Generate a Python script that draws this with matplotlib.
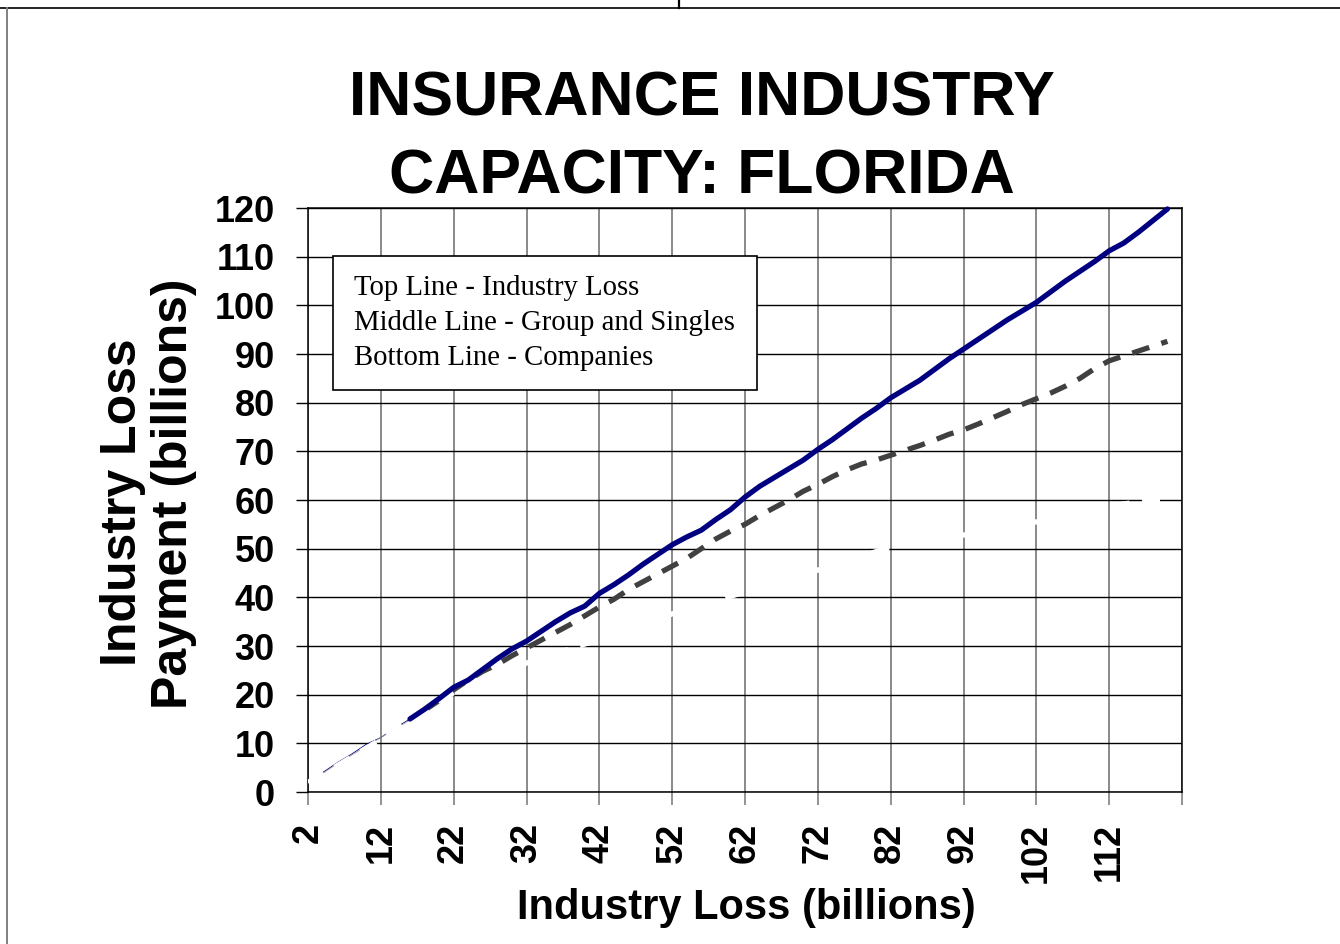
import numpy as np
import matplotlib
matplotlib.use("Agg")
import matplotlib.pyplot as plt
from matplotlib.patches import Rectangle
from matplotlib.lines import Line2D

# data (billions)
loss = list(range(2, 122, 2))
industry = [2, 4, 6, 7.8, 9.8, 11.2, 13.2, 15, 17, 19.2,
            21.5, 23, 25.2, 27.4, 29.4, 31, 33, 35, 36.8, 38.2,
            40.8, 42.6, 44.6, 46.8, 48.8, 50.8, 52.4, 53.8, 56, 58,
            60.6, 62.8, 64.6, 66.4, 68.2, 70.4, 72.4, 74.6, 76.8, 78.8,
            81, 82.8, 84.6, 86.8, 89, 91, 93, 95, 97, 98.8,
            100.6, 102.8, 105, 107, 109, 111.2, 112.8, 115, 117.4, 119.8]
groups = [2, 3.8, 5.8, 7.6, 9.4, 11.2, 13, 14.8, 16.8, 18.8,
          21, 23, 24.8, 26.2, 28, 29.6, 31.2, 32.8, 34.4, 36.2,
          38, 39.6, 41.6, 43.2, 44.8, 46.4, 48, 50, 52, 53.6,
          55, 56.8, 58.4, 60, 61.8, 63.2, 64.8, 66.2, 67.4, 68.2,
          69.2, 70.2, 71.2, 72.3, 73.5, 74.4, 75.6, 76.9, 78.2, 79.6,
          80.8, 82, 83.4, 85, 87, 88.6, 89.6, 90.6, 91.6, 92.6]
companies = [2, 3.6, 5.4, 7.2, 9, 10.8, 12.8, 14.8, 16.6, 18.8,
             20.4, 21.4, 22.6, 23.8, 25.2, 26.5, 27.5, 28.5, 29.4, 30.4,
             31.2, 32.3, 33.4, 34.5, 35.6, 36.6, 37.5, 38.4, 39.3, 40.2,
             41.1, 42, 42.9, 43.8, 44.7, 45.6, 46.6, 47.5, 48.4, 49.4,
             50.3, 50.8, 51.3, 51.8, 52.3, 52.8, 53.4, 53.9, 54.4, 55,
             55.5, 56.1, 56.8, 57.4, 58, 58.6, 59.2, 59.6, 60, 60.2]

xticks = list(range(2, 123, 10))
xticklabels = [str(v) for v in range(2, 113, 10)] + [""]
yticks = list(range(0, 121, 10))

title_lines = ["INSURANCE INDUSTRY", "CAPACITY: FLORIDA"]
note_lines = ["Top Line - Industry Loss",
              "Middle Line - Group and Singles",
              "Bottom Line - Companies"]

bold = {"family": "Liberation Sans", "weight": "bold"}

fig = plt.figure(figsize=(13.4, 9.44), dpi=100)
ax = fig.add_axes([308 / 1340, 1 - 792 / 944, 874 / 1340, 584 / 944])

x = np.array(loss)
start = 7  # first points are drawn thin in the original
thin = x <= loss[start]
ax.plot(x[thin], np.array(industry)[thin], color="#000080", lw=0.6, zorder=3)
ax.plot(x[thin], np.array(groups)[thin], color="#9a9a9a", lw=0.6, zorder=3)
ax.plot(x[start:], industry[start:], color="#000080", lw=3.8, zorder=4,
        solid_capstyle="round", clip_on=False)
ax.plot(x[start + 1:], groups[start + 1:], color="#404040", lw=3.8,
        linestyle=(0, (3.4, 2.4)), zorder=3)
ax.plot(x, companies, color="white", lw=3.8,
        linestyle=(0, (3.4, 2.4)), zorder=3)

ax.set_xlim(2, 122)
ax.set_ylim(0, 120)
ax.set_xticks(xticks)
ax.set_xticklabels(xticklabels, rotation=90, fontdict=bold, fontsize=26)
ax.set_yticks(yticks)
ax.set_yticklabels([str(v) for v in yticks], fontdict=bold, fontsize=26)
ax.tick_params(axis="x", direction="out", length=9, width=1.2,
               color="#808080", pad=13)
ax.tick_params(axis="y", direction="out", length=9, width=1.0,
               color="black", pad=15)
ax.set_axisbelow(True)
ax.grid(axis="y", color="black", lw=1.0)
ax.grid(axis="x", color="#808080", lw=1.3)
for s in ax.spines.values():
    s.set_color("black")
    s.set_linewidth(1.1)

# text box with the line descriptions
ax.add_patch(Rectangle((25 / 874, (792 - 390) / 584), 424 / 874, 134 / 584,
                       transform=ax.transAxes, facecolor="white",
                       edgecolor="black", lw=1.2, zorder=5))
for i, line in enumerate(note_lines):
    fig.text(354 / 1340, 1 - (295 + 35 * i) / 944, line,
             family="Liberation Serif", fontsize=20.7, va="baseline", zorder=6)

for i, line in enumerate(title_lines):
    fig.text(702 / 1340, 1 - (115 + 78 * i) / 944, line, fontdict=bold,
             fontsize=45, ha="center", va="baseline")

fig.text(746 / 1340, 1 - 919 / 944, "Industry Loss (billions)",
         fontdict=bold, fontsize=30, ha="center", va="baseline")
fig.text(136 / 1340, 1 - 502 / 944, "Industry Loss", fontdict=bold,
         fontsize=36, rotation=90, rotation_mode="anchor",
         ha="center", va="baseline")
fig.text(187 / 1340, 1 - 494 / 944, "Payment (billions)", fontdict=bold,
         fontsize=36, rotation=90, rotation_mode="anchor",
         ha="center", va="baseline")

# page frame
fig.add_artist(Line2D([0, 1], [1 - 8 / 944] * 2, color="black", lw=1.2))
fig.add_artist(Line2D([679 / 1340] * 2, [1, 1 - 8 / 944], color="black", lw=1.6))
fig.add_artist(Line2D([7 / 1340] * 2, [1 - 8 / 944, 0], color="#808080", lw=1.4))

fig.savefig("out.png", dpi=100)
